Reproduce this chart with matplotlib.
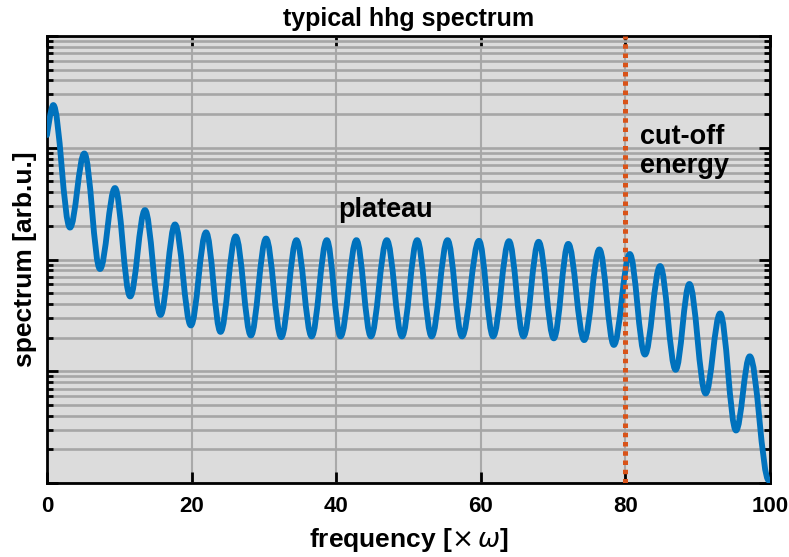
import numpy as np
import matplotlib
matplotlib.use("Agg")
import matplotlib.pyplot as plt
from matplotlib.path import Path
from matplotlib.patches import PathPatch
from matplotlib.ticker import LogLocator, NullFormatter

plt.rcParams['font.family'] = ['Liberation Sans', 'DejaVu Sans']
plt.rcParams['mathtext.fontset'] = 'dejavusans'

# extrema of the spectrum (alternating peak / trough)
freq = [0.0, 0.87, 3.18, 5.16, 7.33, 9.4, 11.5, 13.55, 15.7, 17.7, 19.9,
        22.0, 24.0, 26.1, 28.2, 30.3, 32.4, 34.5, 36.6, 38.7, 40.6,
        42.8, 44.8, 47.0, 49.1, 51.2, 53.2, 55.4, 57.4, 59.75, 61.7,
        63.9, 65.9, 68.0, 70.1, 72.1, 74.3, 76.4, 78.4, 80.6, 82.7,
        84.8, 86.95, 88.85, 91.1, 93.1, 95.3, 97.2, 99.85]
spectrum = [0.130, 0.241, 0.0193, 0.0889, 0.00822, 0.0436, 0.00467, 0.0277, 0.00319,
            0.0206, 0.00257, 0.0175, 0.00225, 0.0161, 0.00209, 0.0154, 0.00202,
            0.0149, 0.00205, 0.0149, 0.00205, 0.0149, 0.00205, 0.0149, 0.00205,
            0.0149, 0.00205, 0.0149, 0.00205, 0.0147, 0.00205, 0.0146, 0.00205,
            0.0144, 0.00197, 0.0138, 0.00190, 0.0123, 0.00172, 0.0112, 0.00141,
            0.00874, 0.00103, 0.00604, 0.000632, 0.00329, 0.000295, 0.00136, 0.000105]

cutoff = 80
xlim = (0, 100)
ylim = (1e-4, 1e0)
xticks = [0, 20, 40, 60, 80, 100]

fig = plt.figure(figsize=(7.89, 5.57), dpi=100)
ax = fig.add_axes([47/789, 1-483/557, (770-47)/789, (483-36)/557])
ax.set_facecolor('#dcdcdc')
ax.set_yscale('log')
ax.set_xlim(*xlim)
ax.set_ylim(*ylim)

# smooth curve through the extrema (horizontal tangents at each extremum)
k = 0.3642
verts = [(freq[0], spectrum[0])]
codes = [Path.MOVETO]
for i in range(len(freq) - 1):
    x0, y0, x1, y1 = freq[i], spectrum[i], freq[i+1], spectrum[i+1]
    dx = x1 - x0
    c1 = (x0, y0) if i == 0 else (x0 + k*dx, y0)
    verts += [c1, (x1 - k*dx, y1), (x1, y1)]
    codes += [Path.CURVE4]*3
patch = PathPatch(Path(verts, codes), fill=False, edgecolor='#0072BD',
                  lw=4.2, capstyle='round', joinstyle='round', zorder=3,
                  transform=ax.transData)
ax.add_patch(patch)

ax.axvline(cutoff, color='#D95319', lw=3.6, linestyle=(0, (0.9, 0.95)),
           dash_capstyle='butt', zorder=4)

# grid
ax.yaxis.set_major_locator(LogLocator(base=10, numticks=10))
ax.yaxis.set_minor_locator(LogLocator(base=10, subs=np.arange(2, 10), numticks=10))
ax.yaxis.set_major_formatter(NullFormatter())
ax.yaxis.set_minor_formatter(NullFormatter())
ax.set_xticks(xticks)
ax.set_xticklabels([str(t) for t in xticks])
ax.grid(True, which='major', axis='x', color='#a9a9a9', lw=1.5, zorder=1)
ax.grid(True, which='both', axis='y', color='#a6a6a6', lw=1.9, zorder=1)
ax.set_axisbelow(True)

ax.tick_params(axis='both', which='major', direction='in', length=8, width=2,
               top=True, right=True, labelsize=16, pad=9)
ax.tick_params(axis='y', which='minor', direction='in', length=4.5, width=2,
               left=True, right=True)
ax.tick_params(axis='x', which='minor', bottom=False, top=False)
for lab in ax.get_xticklabels():
    lab.set_fontweight('bold')
for s in ax.spines.values():
    s.set_linewidth(2)
    s.set_color('black')

ax.set_title('typical hhg spectrum', fontsize=18, fontweight='bold', pad=7.5)
ax.set_xlabel(r'frequency [$\times\,\omega$]', fontsize=19, fontweight='bold')
ax.set_ylabel('spectrum [arb.u.]', fontsize=19, fontweight='bold')
ax.xaxis.set_label_coords(0.5, -0.097)
ax.yaxis.set_label_coords(-0.014, 0.5)

ax.text(40.3, 0.028, 'plateau', fontsize=19.5, fontweight='bold', ha='left', va='center')
ax.text(82.0, 0.092, 'cut-off\nenergy', fontsize=19.5, fontweight='bold', ha='left',
        va='center', linespacing=1.15)

fig.savefig('out.png', dpi=100)
